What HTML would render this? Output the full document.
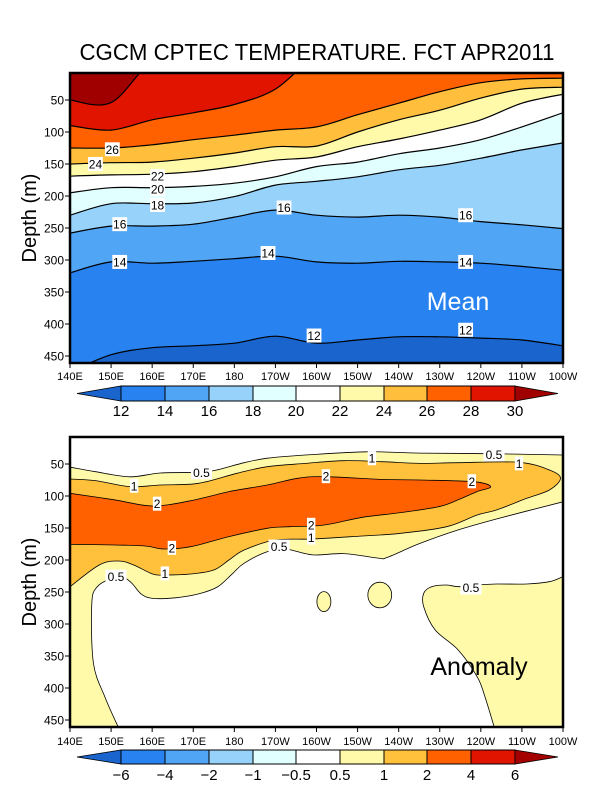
<!DOCTYPE html>
<html><head><meta charset="utf-8">
<style>
html,body{margin:0;padding:0;background:#fff;}
svg{display:block;font-family:"Liberation Sans",sans-serif;}
</style></head>
<body>
<svg id="chart" width="600" height="800" viewBox="0 0 600 800" xmlns="http://www.w3.org/2000/svg">
<text x="317" y="60" text-anchor="middle" font-size="23" textLength="475" lengthAdjust="spacingAndGlyphs">CGCM CPTEC TEMPERATURE. FCT APR2011</text>
<defs>
<clipPath id="clipTop"><rect x="70" y="73" width="493" height="290"/></clipPath>
<clipPath id="clipBot"><rect x="70" y="437" width="493" height="290"/></clipPath>
</defs>
<g id="topPanel"></g>
<g id="botPanel"></g>
</svg>
<script>
// ---------- data ----------
const lonTicks = [140,150,160,170,180,190,200,210,220,230,240,250,260];
const lonLabels = ["140E","150E","160E","170E","180","170W","160W","150W","140W","130W","120W","110W","100W"];
const depthTicks = [50,100,150,200,250,300,350,400,450];
const meanLevels = [30,28,26,24,22,20,18,16,14,12];
// isotherm depth (m) at each lonTicks longitude
const iso30 = [50,54,-12,-40,-40,-40,-40,-40,-40,-40,-40,-40,-40];
const iso28 = [90,97,81,70,57,33,-20,-40,-40,-40,-40,-40,-40];
const iso26 = [125,125,120,112,105,97,92,73,55,37,23,17,16];
const iso24 = [150,148,147,141,133,123,122,100,81,66,47,33,30];
const iso22 = [169,167,166,162,154,144,139,123,111,97,81,55,41];
const iso20 = [195,187,187,185,180,170,154,147,134,125,112,92,70];
const iso18 = [230,212,212,211,201,183,177,170,159,152,141,128,117];
const iso16 = [258,247,247,244,233,222,230,233,230,233,240,245,251];
const iso14 = [320,303,305,302,298,294,303,305,302,303,305,310,316];
const iso12 = [475,448,437,434,430,419,430,425,420,420,422,425,434];
const meanColors = ["#A00000","#E11400","#FF6000","#FFBE3C","#FFFAAA","#FFFFFF","#E1FFFF","#96D2FA","#50A5F5","#2882F0","#1964CD"];
const meanBarLabels = ["12","14","16","18","20","22","24","26","28","30"];
const anomBarLabels = ["\u22126","\u22124","\u22122","\u22121","\u22120.5","0.5","1","2","4","6"];
const anomColors = ["#1964CD","#2882F0","#50A5F5","#96D2FA","#E1FFFF","#FFFFFF","#FFFAAA","#FFC03C","#FF6000","#E11400","#A50000"];
// anomaly contours: [lon, depth]
const a05Upper = [[140,55],[146.2,62],[154.6,70],[162,64],[171.3,63],[175.9,59],[182.4,48],[188,41],[197.3,36],[212.2,31],[225.2,33],[243.8,34],[260,36]];
const a05Lower = [[151.8,462],[148.5,414],[145.7,361],[145.3,268],[146.6,242],[149.9,229],[152.7,226],[155,236],[157.3,253],[160.1,260],[165.7,259],[171.3,253],[175.9,242],[179.6,221],[182.4,205],[188,187],[192.6,183],[199.1,192],[206.6,190],[215,197],[217.2,196],[225.2,174],[234.5,153],[243.8,136],[260,109]];
const a1Contour = [[140,73.4],[146.2,76],[154.6,85.4],[162,82.8],[171.3,80.2],[180.6,64.6],[188,54.2],[197.3,49],[206.6,44.8],[215.9,46.4],[225.2,49],[234.5,47.9],[249.3,47.4],[256.7,59.4],[259.4,72.4],[256.7,90.6],[251.2,103.6],[243.8,121.9],[239.1,129.7],[231.7,148],[220.5,158.3],[211.2,162.5],[199.1,167.2],[189.9,168.8],[182.4,184.4],[178.7,200],[175,215.6],[169.4,221.9],[162.9,223.4],[160.1,221.9],[155.5,207.8],[151.8,201.6],[147.1,207.8],[140,241.7]];
const a2Contour = [[140,95.8],[150.8,106],[160.1,115.6],[169.4,107.3],[178.7,93.2],[188,82.8],[195.4,72.4],[201.9,69.8],[215.9,74],[225.2,75],[238.2,77.6],[242.4,85.4],[239.1,93.2],[234.5,106],[229.8,116.7],[220.5,126],[211.2,133.3],[201.9,145.3],[193.6,148],[188,150.5],[178.7,163.5],[169.4,179.2],[162.9,182.8],[158.3,178.1],[150.8,176.6],[140,175.5]];
const aRight05 = [[260,226],[256.7,233.9],[251.2,237.5],[243.8,237.5],[239.1,239],[234.5,241.7],[231.7,239],[228,241.7],[226.1,252],[226.1,272.9],[228.9,309.4],[234.5,340.6],[239.1,382.3],[241,413.5],[243.3,462]];
const blobs = [[201.8,265,1.7,15.6],[215.4,254.7,2.9,20]];
// labels: [text, lon, depth]
const meanLabels = [["26",150.3,127],["24",146.2,150],["22",161.3,169],["20",161.3,189],["18",161.3,214],["16",152.1,244],["16",192.1,218],["14",152.1,303],["14",188.2,289],["16",236.3,230],["14",236.3,303],["12",199.4,418],["12",236.3,409]];
const anomLabels = [["0.5",172,63],["1",213.5,41],["0.5",243.2,35],["1",249.3,49],["2",202.3,69],["2",237.8,77],["1",155.6,84],["2",161.2,112],["2",198.7,145],["1",198.7,165],["0.5",190.9,179],["2",164.8,181],["1",163.1,221],["0.5",151.2,226],["0.5",237.6,243]];

// ---------- helpers ----------
const NS = "http://www.w3.org/2000/svg";
const X0 = 70, X1 = 563;
function xs(lon){ return X0 + (lon-140)/120*(X1-X0); }
function ysTop(d){ return 100 + (d-50)*0.64; }
function ysBot(d){ return 464 + (d-50)*0.64; }
function mk(tag, attrs, parent){
  const e = document.createElementNS(NS, tag);
  for (const k in attrs) e.setAttribute(k, attrs[k]);
  parent.appendChild(e); return e;
}
function curve(pts, move){
  let s = (move ? "M" : "L") + pts[0][0].toFixed(1) + "," + pts[0][1].toFixed(1);
  for (let i=0;i<pts.length-1;i++){
    const p0 = pts[Math.max(0,i-1)], p1 = pts[i], p2 = pts[i+1], p3 = pts[Math.min(pts.length-1,i+2)];
    const c1 = [p1[0]+(p2[0]-p0[0])/6, p1[1]+(p2[1]-p0[1])/6];
    const c2 = [p2[0]-(p3[0]-p1[0])/6, p2[1]-(p3[1]-p1[1])/6];
    s += "C"+c1[0].toFixed(1)+","+c1[1].toFixed(1)+" "+c2[0].toFixed(1)+","+c2[1].toFixed(1)+" "+p2[0].toFixed(1)+","+p2[1].toFixed(1);
  }
  return s;
}
function lbl(parent, t, x, y, fs, nm){
  const w = t.length*6.4+2;
  const g = mk("g", {}, parent);
  
  
  mk("rect", {x:x-w/2, y:y-7, width:w, height:14, fill:"#fff"}, g);
  const tx = mk("text", {x:x, y:y+4.5, "text-anchor":"middle", "font-size":fs}, g);
  tx.textContent = t;
}
function axes(parent, yTop, ysf, xlabY, nmPrefix){
  const frame = mk("rect", {x:X0, y:yTop, width:X1-X0, height:290, fill:"none", stroke:"#000", "stroke-width":2.5}, parent);
  
  
  lonTicks.forEach((lon,i)=>{
    const x = xs(lon);
    mk("line", {x1:x, x2:x, y1:yTop+290, y2:yTop+295, stroke:"#000", "stroke-width":1}, parent);
    const t = mk("text", {x:x, y:xlabY, "text-anchor":"middle", "font-size":11}, parent);
    
    
    t.textContent = lonLabels[i];
  });
  depthTicks.forEach(d=>{
    const y = ysf(d);
    mk("line", {x1:X0-5, x2:X0, y1:y, y2:y, stroke:"#000", "stroke-width":1}, parent);
    const t = mk("text", {x:X0-6, y:y+4.5, "text-anchor":"end", "font-size":12}, parent);
    
    
    t.textContent = d;
  });
  const yc = yTop+145;
  const yt = mk("text", {x:36, y:yc, "text-anchor":"middle", "font-size":20, transform:"rotate(-90 36 "+yc+")"}, parent);
  
  
  yt.textContent = "Depth (m)";
}
function colorbar(parent, colors, labels, yb, h, ly, nm){
  const g = mk("g", {}, parent);
  
  
  const bx = [121,165,209,253,296,340,384,427,471,515];
  const mid = yb+h/2;
  mk("polygon", {points:"77,"+mid+" 121,"+yb+" 121,"+(yb+h), fill:colors[0], stroke:"#000", "stroke-width":0.8}, g);
  for (let i=0;i<9;i++){
    mk("rect", {x:bx[i], y:yb, width:bx[i+1]-bx[i], height:h, fill:colors[i+1], stroke:"#000", "stroke-width":1}, g);
  }
  mk("polygon", {points:"515,"+yb+" 558,"+mid+" 515,"+(yb+h), fill:colors[10], stroke:"#000", "stroke-width":0.8}, g);
  labels.forEach((t,i)=>{
    const tx = mk("text", {x:bx[i], y:ly, "text-anchor":"middle", "font-size":15}, g);
    
    
    tx.textContent = t;
  });
}

// ---------- Mean panel ----------
const topPanel = document.getElementById("topPanel");
const tg = mk("g", {"clip-path":"url(#clipTop)"}, topPanel);
mk("rect", {x:X0, y:73, width:X1-X0, height:290, fill:meanColors[0]}, tg);
const isoSets = [iso30,iso28,iso26,iso24,iso22,iso20,iso18,iso16,iso14,iso12];
isoSets.forEach((arr,k)=>{
  const pts = arr.map((d,i)=>[xs(lonTicks[i]), ysTop(d)]);
  const band = mk("path", {d: curve(pts,true)+"L"+(X1+5)+","+400+"L"+(X0-5)+","+400+"Z", fill:meanColors[k+1]}, tg);
  
  
});
isoSets.forEach((arr,k)=>{
  const pts = arr.map((d,i)=>[xs(lonTicks[i]), ysTop(d)]);
  const ln = mk("path", {d: curve(pts,true), fill:"none", stroke:"#000", "stroke-width":1.2}, tg);
  
  
});
meanLabels.forEach(l=>lbl(tg, l[0], xs(l[1]), ysTop(l[2]), 12, 'isotherm-label'));
const mt = mk("text", {x:458, y:310, "text-anchor":"middle", "font-size":25, fill:"#fff"}, tg);


mt.textContent = "Mean";
axes(topPanel, 73, ysTop, 380, 'mean');
colorbar(topPanel, meanColors.slice().reverse(), meanBarLabels, 386, 15, 416, 'mean-colorbar');

// ---------- Anomaly panel ----------
const botPanel = document.getElementById("botPanel");
const bg = mk("g", {"clip-path":"url(#clipBot)"}, botPanel);
mk("rect", {x:X0, y:437, width:X1-X0, height:290, fill:"#fff"}, bg);
function P(arr){ return arr.map(p=>[xs(p[0]), ysBot(p[1])]); }
const YEL = "#FFFAAA";
const upPts = P(a05Upper), loPts = P(a05Lower).reverse();
const main05 = mk("path", {d: curve(upPts,true)+curve(loPts,false)+"L"+(X0-5)+",740L"+(X0-5)+","+upPts[0][1]+"Z", fill:YEL}, bg);


const rp = P(aRight05);
const right05 = mk("path", {d: curve(rp,true)+"L"+(X1+5)+",740Z", fill:YEL, stroke:"#000", "stroke-width":0.8}, bg);


blobs.forEach(b=>{
  const e = mk("ellipse", {cx:xs(b[0]), cy:ysBot(b[1]), rx:b[2]*493/120, ry:b[3]*0.64, fill:YEL, stroke:"#000", "stroke-width":0.8}, bg);
  
  
});
const p1 = P(a1Contour);
const r1 = mk("path", {d: curve(p1,true)+"Z", fill:"#FFC03C", stroke:"#000", "stroke-width":0.8}, bg);


const p2 = P(a2Contour);
const r2 = mk("path", {d: curve(p2,true)+"Z", fill:"#FF6000", stroke:"#000", "stroke-width":0.8}, bg);


const l05a = mk("path", {d: curve(upPts,true), fill:"none", stroke:"#000", "stroke-width":0.8}, bg);


const l05b = mk("path", {d: curve(P(a05Lower),true), fill:"none", stroke:"#000", "stroke-width":0.8}, bg);


anomLabels.forEach(l=>lbl(bg, l[0], xs(l[1]), ysBot(l[2]), 12, 'anomaly-contour-label'));
const at = mk("text", {x:479, y:675, "text-anchor":"middle", "font-size":25, fill:"#000"}, bg);


at.textContent = "Anomaly";
axes(botPanel, 437, ysBot, 745, 'anomaly');
colorbar(botPanel, anomColors, anomBarLabels, 750, 14, 780, 'anomaly-colorbar');
</script>
</body></html>
